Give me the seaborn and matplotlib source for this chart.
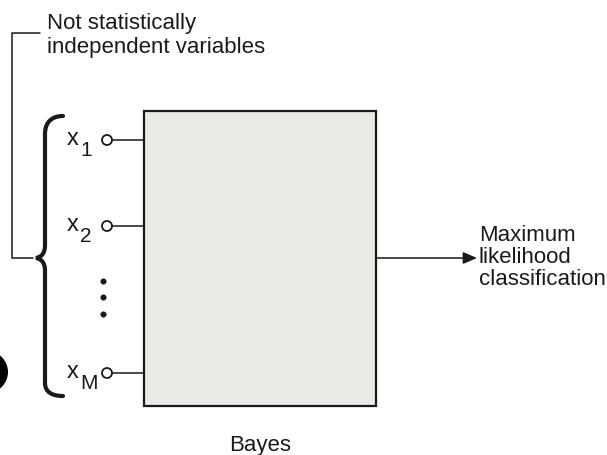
import matplotlib
matplotlib.use("Agg")
import matplotlib.pyplot as plt
from matplotlib.patches import Rectangle, Circle, PathPatch
from matplotlib.path import Path
import seaborn as sns

# diagram content
input_names = ["x", "x", "x"]
input_subs = ["1", "2", "M"]
input_y = [140, 226, 373]
dots_y = [281, 297, 314]
top_note = ["Not statistically", "independent variables"]
output_lines = ["Maximum", "likelihood", "classification"]
box_label = "Bayes"

sns.set_theme(style="white")
plt.rcParams["font.family"] = ["Liberation Sans", "DejaVu Sans"]

fig = plt.figure(figsize=(6.07, 4.55), dpi=100)
ax = fig.add_axes([0, 0, 1, 1])
ax.set_xlim(0, 607)
ax.set_ylim(455, 0)
ax.axis("off")

ink = "#1a1a1a"
fs = 16

# processing box
box_l, box_t, box_r, box_b = 144, 111, 376, 406
ax.add_patch(Rectangle((box_l, box_t), box_r - box_l, box_b - box_t,
                       facecolor="#e9e9e5", edgecolor=ink, lw=1.6))
ax.text((box_l + box_r) / 2, 451, box_label, ha="center", va="baseline",
        fontsize=fs, color=ink)

# inputs
circ_x = 107
for name, sub, y in zip(input_names, input_subs, input_y):
    ax.plot([circ_x + 5, box_l], [y, y], color=ink, lw=1.1)
    ax.add_patch(Circle((circ_x, y), 5, facecolor="white", edgecolor=ink, lw=1.3))
    ax.text(67, y + 5, name, ha="left", va="baseline", fontsize=fs + 1, color=ink)
    ax.text(80, y + 16, sub, ha="left", va="baseline", fontsize=fs - 1, color=ink)

sns.scatterplot(x=[103] * len(dots_y), y=dots_y, ax=ax, color=ink, s=16,
                edgecolor=ink, legend=False)

# curly brace
verts = [(63, 116), (52, 116), (45, 122), (45, 134),
         (45, 245),
         (45, 254), (41, 257), (36, 258),
         (41, 259), (45, 262), (45, 271),
         (45, 383),
         (45, 392), (52, 396), (63, 396)]
codes = [Path.MOVETO, Path.CURVE4, Path.CURVE4, Path.CURVE4,
         Path.LINETO,
         Path.CURVE4, Path.CURVE4, Path.CURVE4,
         Path.CURVE4, Path.CURVE4, Path.CURVE4,
         Path.LINETO,
         Path.CURVE4, Path.CURVE4, Path.CURVE4]
ax.add_patch(PathPatch(Path(verts, codes), facecolor="none", edgecolor=ink,
                       lw=3, capstyle="round"))

# bracket to the note
ax.plot([40, 12, 12, 33], [33, 33, 258, 258], color=ink, lw=1.1)
ax.text(47, 29, top_note[0], ha="left", va="baseline", fontsize=fs, color=ink)
ax.text(47, 53, top_note[1], ha="left", va="baseline", fontsize=fs, color=ink)

# output arrow
ax.annotate("", xy=(477, 258), xytext=(box_r, 258),
            arrowprops=dict(arrowstyle="-|>,head_length=0.7,head_width=0.3",
                            color=ink, lw=1.1, shrinkA=0, shrinkB=0))
for i, line in enumerate(output_lines):
    ax.text(479, 241 + 22 * i, line, ha="left", va="baseline", fontsize=fs, color=ink)

# partial black dot at left edge
ax.add_patch(Circle((-13, 372), 21, facecolor="black", edgecolor="none"))

fig.savefig("out.png", dpi=100)
